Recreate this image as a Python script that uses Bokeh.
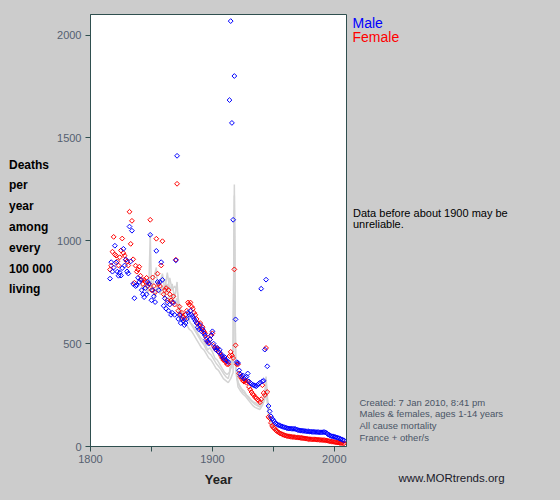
from bokeh.plotting import figure
from bokeh.models import Range1d, FixedTicker
from bokeh.layouts import row
from bokeh.core.properties import value
from bokeh.embed import file_html
from bokeh.resources import INLINE

# ---------------- data ----------------
years = list(range(1816, 2009))
male = [
    816, 896, 850, 870,
    976, 895, 850, 830, 845, 831, 867, 961, 880, 908,
    851, 841, 1069, 900, 1049, 790, 721, 780, 784, 820,
    800, 811, 760, 740, 726, 770, 740, 800, 790, 1029,
    711, 760, 730, 702, 951, 800, 760, 800, 896, 810,
    684, 720, 670, 700, 660, 690, 640, 650, 700, 640,
    905, 1413, 620, 640, 600, 620, 610, 590, 600, 620,
    650, 640, 660, 640, 630, 620, 610, 600, 580, 570,
    590, 560, 570, 550, 540, 520, 510, 500, 520, 540,
    560, 500, 480, 470, 480, 460, 470, 450, 440, 430,
    435, 420, 416, 410, 1684, 2068, 1573, 1102, 1801, 618,
    410, 406, 370, 350, 340, 345, 330, 335, 340, 355,
    316, 310, 305, 300, 298, 295, 293, 300, 305, 310,
    767, 317, 320, 471, 811, 390, 197, 171, 147, 135,
    128, 120, 112, 108, 104, 103, 100, 98, 95, 94,
    92, 90, 88, 87, 87, 86, 86, 86, 85, 83,
    80, 79, 78, 77, 76, 76, 75, 74, 74, 73,
    72, 72, 71, 71, 71, 70, 70, 70, 69, 69,
    69, 70, 70, 68, 64, 58, 55, 52, 50, 49,
    47, 46, 44, 42, 40, 37, 35, 32, 30,
]
female = [
    860, 879, 947, 1019,
    933, 928, 900, 880, 920, 953, 1011, 940, 928, 908,
    900, 880, 1141, 985, 1097, 910, 796, 879, 850, 860,
    874, 830, 810, 790, 810, 800, 820, 780, 790, 1102,
    760, 822, 780, 750, 1010, 840, 790, 780, 880, 998,
    740, 760, 770, 711, 760, 740, 710, 700, 730, 690,
    908, 1277, 660, 680, 640, 650, 630, 620, 640, 660,
    700, 690, 700, 680, 670, 650, 640, 620, 600, 590,
    600, 570, 580, 560, 550, 530, 510, 505, 520, 540,
    550, 490, 480, 470, 475, 460, 455, 440, 430, 420,
    420, 410, 400, 400, 440, 460, 443, 430, 861, 492,
    400, 400, 355, 340, 330, 320, 315, 320, 310, 317,
    290, 277, 265, 255, 250, 240, 235, 228, 224, 215,
    230, 298, 260, 250, 479, 265, 144, 137, 115, 100,
    92, 87, 79, 74, 70, 66, 63, 60, 57, 55,
    53, 51, 50, 49, 48, 47, 46, 46, 45, 44,
    43, 43, 42, 42, 41, 40, 39, 38, 37, 36,
    36, 35, 35, 35, 35, 34, 33, 33, 32, 32,
    31, 31, 31, 30, 29, 27, 26, 25, 24, 23,
    22, 21, 20, 19, 18, 17, 17, 16, 15,
]

other1_years = [1841, 1843, 1845, 1847, 1848, 1849, 1850, 1852, 1854, 1855, 1857, 1859,
                1861, 1863, 1865, 1867, 1869, 1870, 1871, 1872, 1874, 1876, 1878, 1880,
                1882, 1884, 1886, 1888, 1890, 1892, 1894, 1896, 1898, 1900, 1902, 1904,
                1906, 1908, 1910, 1912, 1914, 1915, 1916, 1917, 1918, 1919, 1920, 1922,
                1924, 1926, 1928, 1930, 1932, 1934, 1936, 1938, 1940, 1942, 1943, 1944,
                1945, 1946, 1948, 1950, 1953, 1956, 1960, 1965, 1970, 1975, 1980, 1985,
                1990, 1995, 2000, 2005, 2008]
other1 = [800, 760, 790, 740, 800, 1034, 760, 820, 870, 760, 800, 840,
          760, 845, 760, 790, 720, 760, 800, 700, 660, 640, 620, 629,
          600, 590, 575, 550, 530, 520, 500, 470, 480, 460, 430, 420,
          400, 380, 360, 350, 360, 420, 380, 500, 1273, 430, 330, 300,
          280, 270, 250, 240, 225, 215, 210, 200, 215, 230, 260, 340,
          250, 170, 120, 95, 80, 68, 60, 52, 47, 43, 40, 37,
          32, 27, 23, 19, 17]

other2_years = [1851, 1853, 1855, 1857, 1859, 1861, 1863, 1865, 1867, 1869, 1871, 1873,
                1875, 1877, 1879, 1881, 1883, 1885, 1887, 1889, 1891, 1893, 1895, 1897,
                1899, 1901, 1903, 1905, 1907, 1909, 1911, 1913, 1915, 1917, 1918, 1919,
                1921, 1923, 1925, 1927, 1929, 1931, 1933, 1935, 1937, 1939, 1941, 1943,
                1944, 1945, 1946, 1948, 1950, 1953, 1956, 1960, 1965, 1970, 1975, 1980,
                1985, 1990, 1995, 2000, 2005, 2008]
other2 = [780, 720, 800, 740, 780, 720, 790, 700, 740, 690, 720, 640,
          610, 600, 590, 570, 560, 540, 520, 500, 480, 470, 450, 430,
          420, 400, 380, 370, 350, 330, 320, 310, 330, 360, 1150, 380,
          290, 270, 255, 245, 230, 215, 200, 190, 185, 180, 200, 230,
          300, 220, 150, 110, 88, 72, 62, 55, 48, 43, 40, 37,
          34, 30, 26, 22, 18, 16]

other3_years = [1861, 1863, 1865, 1867, 1869, 1871, 1873, 1875, 1877, 1879, 1881, 1883,
                1885, 1887, 1889, 1891, 1893, 1895, 1897, 1899, 1901, 1903, 1905, 1907,
                1909, 1911, 1913, 1915, 1917, 1918, 1919, 1921, 1923, 1925, 1927, 1929,
                1931, 1933, 1935, 1937, 1939, 1941, 1943, 1944, 1945, 1946, 1948, 1950,
                1953, 1956, 1960, 1965, 1970, 1975, 1980, 1985, 1990, 1995, 2000, 2005, 2008]
other3 = [810, 760, 820, 760, 780, 760, 680, 650, 640, 620, 610, 590,
          570, 550, 530, 510, 495, 470, 455, 445, 425, 405, 390, 375,
          355, 340, 330, 380, 420, 1220, 410, 310, 285, 265, 255, 240,
          228, 215, 205, 198, 192, 210, 245, 320, 235, 160, 115, 92,
          76, 65, 57, 50, 45, 41, 38, 35, 31, 26, 22, 18, 16]

x_ticks = [1800, 1850, 1900, 1950, 2000]
x_tick_labels = {1800: "1800", 1850: "", 1900: "1900", 1950: "", 2000: "2000"}
y_ticks = [0, 500, 1000, 1500, 2000]

ylabel_lines = ["Deaths", "per", "year", "among", "every", "100 000", "living"]
legend_labels = ["Male", "Female"]
caveat_lines = ["Data before about 1900 may be", "unreliable."]
notes = ["Created: 7 Jan 2010, 8:41 pm", "Males & females, ages 1-14 years",
         "All cause mortality", "France + other/s"]
site = "www.MORtrends.org"

# ---------------- layout geometry ----------------
FONT = "Liberation Sans"
BG = "#cccccc"
H = 500
LW = 54                      # left text strip
ML, FW, MR = 35, 256, 4      # main figure: left border, frame, right border
FT, FH = 14, 432
RX = LW + ML + FW + MR       # x where right text strip starts (349)
RW = 560 - RX
TOP = 15                     # space the text strips reserve above their frame

X0, X1, Y0, Y1 = 1800, 2010, 0, 2100

p = figure(title=None, frame_width=FW, frame_height=FH,
           min_border_left=ML, min_border_right=MR,
           min_border_top=FT, min_border_bottom=H - FT - FH,
           x_range=Range1d(X0, X1), y_range=Range1d(Y0, Y1),
           output_backend="svg", toolbar_location=None)
p.border_fill_color = BG
p.background_fill_color = "#ffffff"
p.outline_line_color = "#2f4f4f"
p.outline_line_width = 1
p.xgrid.visible = False
p.ygrid.visible = False

for ax in (p.xaxis[0], p.yaxis[0]):
    ax.axis_line_color = "#2f4f4f"
    ax.major_tick_line_color = "#2f4f4f"
    ax.minor_tick_line_color = None
    ax.major_tick_out = 5
    ax.major_tick_in = 0
    ax.major_label_text_font = FONT
    ax.major_label_text_font_size = "11px"
    ax.major_label_text_color = "#556070"
    ax.major_label_standoff = 3

p.xaxis.ticker = FixedTicker(ticks=x_ticks)
p.xaxis.major_label_overrides = x_tick_labels
p.xaxis.axis_label = "Year"
p.xaxis.axis_label_text_font = FONT
p.xaxis.axis_label_text_font_style = "bold"
p.xaxis.axis_label_text_font_size = "13px"
p.xaxis.axis_label_text_color = "#222222"
p.xaxis.axis_label_standoff = 6
p.yaxis.ticker = FixedTicker(ticks=y_ticks)
p.yaxis.major_label_standoff = 4

for xs, ys in ((other1_years, other1), (other2_years, other2), (other3_years, other3)):
    p.line(xs, ys, line_color="#d4d4d4", line_width=1.5)

p.scatter(years, female, marker="square", angle=0.785398, size=3.4,
          line_color="#ff0000", line_width=1, fill_alpha=0)
p.scatter(years, male, marker="square", angle=0.785398, size=3.4,
          line_color="#0000ff", line_width=1, fill_alpha=0)


def text_strip(w):
    f = figure(title=None, frame_width=w, frame_height=H - TOP, min_border=0,
               x_range=Range1d(0, w), y_range=Range1d(H, TOP),
               x_axis_location=None, y_axis_location=None,
               output_backend="svg", toolbar_location=None)
    f.grid.visible = False
    f.outline_line_color = None
    f.background_fill_color = BG
    f.border_fill_color = BG
    return f


def put(f, x0, xs, ys, texts, size, color, style="normal", align="left"):
    f.text(x=[x - x0 for x in xs], y=ys, text=texts, text_font=value(FONT),
           text_font_size=size, text_color=color, text_font_style=style,
           text_align=align, text_baseline="middle")


left = text_strip(LW)
put(left, 0, [8.5] * len(ylabel_lines), [165 + i * 20.8 for i in range(len(ylabel_lines))],
    ylabel_lines, "12px", "#000000", style="bold")

right = text_strip(RW)
put(right, RX, [351], [23], legend_labels[:1], "14px", "#0000ff")
put(right, RX, [351], [37.5], legend_labels[1:], "14px", "#ff0000")
put(right, RX, [351.5, 351.5], [213.5, 224.5], caveat_lines, "11px", "#000000")
put(right, RX, [358] * len(notes), [402.5 + i * 11.8 for i in range(len(notes))],
    notes, "9.5px", "#4a5566")
put(right, RX, [450], [478.5], [site], "11.5px", "#1a1a2a", align="center")

layout = row(left, p, right, spacing=0)
html = file_html(layout, INLINE)
html = html.replace("<head>", "<head><style>html,body{background:#cccccc;}</style>", 1)
open("out.html", "w").write(html)
